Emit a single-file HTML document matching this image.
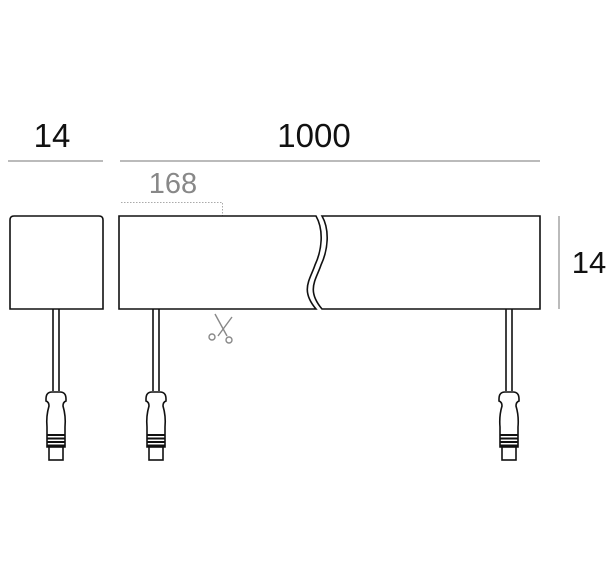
<!DOCTYPE html>
<html><head><style>
html,body{margin:0;padding:0;background:#fff;}
svg{display:block;}
text{font-family:"Liberation Sans",Arial,sans-serif;}
</style></head><body>
<svg width="611" height="579" viewBox="0 0 611 579" xmlns="http://www.w3.org/2000/svg">
<defs>
<g id="conn" fill="#fff" stroke="#111" stroke-width="1.6">
  <path d="M-3,0 L-3,82 M3,0 L3,82" fill="none"/>
  <path d="M-10,90 Q-10,83 -4,83 L4,83 Q10,83 10,90 L10,92 Q7,93 7,97 Q10,107 9,118 L9,138 L-9,138 L-9,118 Q-10,107 -7,97 Q-7,93 -10,92 Z"/>
  <path d="M-9,126 L9,126 M-9,129.5 L9,129.5 M-9,133 L9,133 M-9,136.5 L9,136.5" fill="none" stroke-width="2"/>
  <rect x="-7" y="138" width="14" height="13"/>
</g>
</defs>
<text x="52" y="147" font-size="33" text-anchor="middle" fill="#111">14</text>
<text x="314" y="147" font-size="33" text-anchor="middle" fill="#111">1000</text>
<text x="173" y="193" font-size="29" text-anchor="middle" fill="#888">168</text>
<line x1="8" y1="161" x2="103" y2="161" stroke="#777" stroke-width="1"/>
<line x1="120" y1="161" x2="540" y2="161" stroke="#777" stroke-width="1"/>
<path d="M121,202.5 L222.5,202.5 L222.5,309" fill="none" stroke="#aaa" stroke-width="1" stroke-dasharray="1.5,1.5"/>
<path d="M10,309 L10,220 Q10,216 14,216 L99,216 Q103,216 103,220 L103,309 Z" fill="#fff" stroke="#111" stroke-width="1.6"/>
<path d="M316,216 L119,216 L119,309 L316,309 C300,290 310,280 315,265 C322,250 324,230 316,216 Z" fill="#fff" stroke="#111" stroke-width="1.6"/>
<path d="M322,216 L540,216 L540,309 L322,309 C306,290 316,280 321,265 C328,250 330,230 322,216 Z" fill="#fff" stroke="#111" stroke-width="1.6"/>
<line x1="559" y1="216" x2="559" y2="309" stroke="#777" stroke-width="1"/>
<text x="589" y="273" font-size="31" text-anchor="middle" fill="#111">14</text>
<g stroke="#888" stroke-width="1.4" fill="none">
  <line x1="215" y1="314" x2="227" y2="336"/>
  <line x1="232" y1="317" x2="218" y2="336"/>
  <circle cx="212" cy="337" r="3"/>
  <circle cx="229" cy="340" r="3"/>
</g>
<use href="#conn" x="56" y="309"/>
<use href="#conn" x="156" y="309"/>
<use href="#conn" x="509" y="309"/>
</svg>
</body></html>
